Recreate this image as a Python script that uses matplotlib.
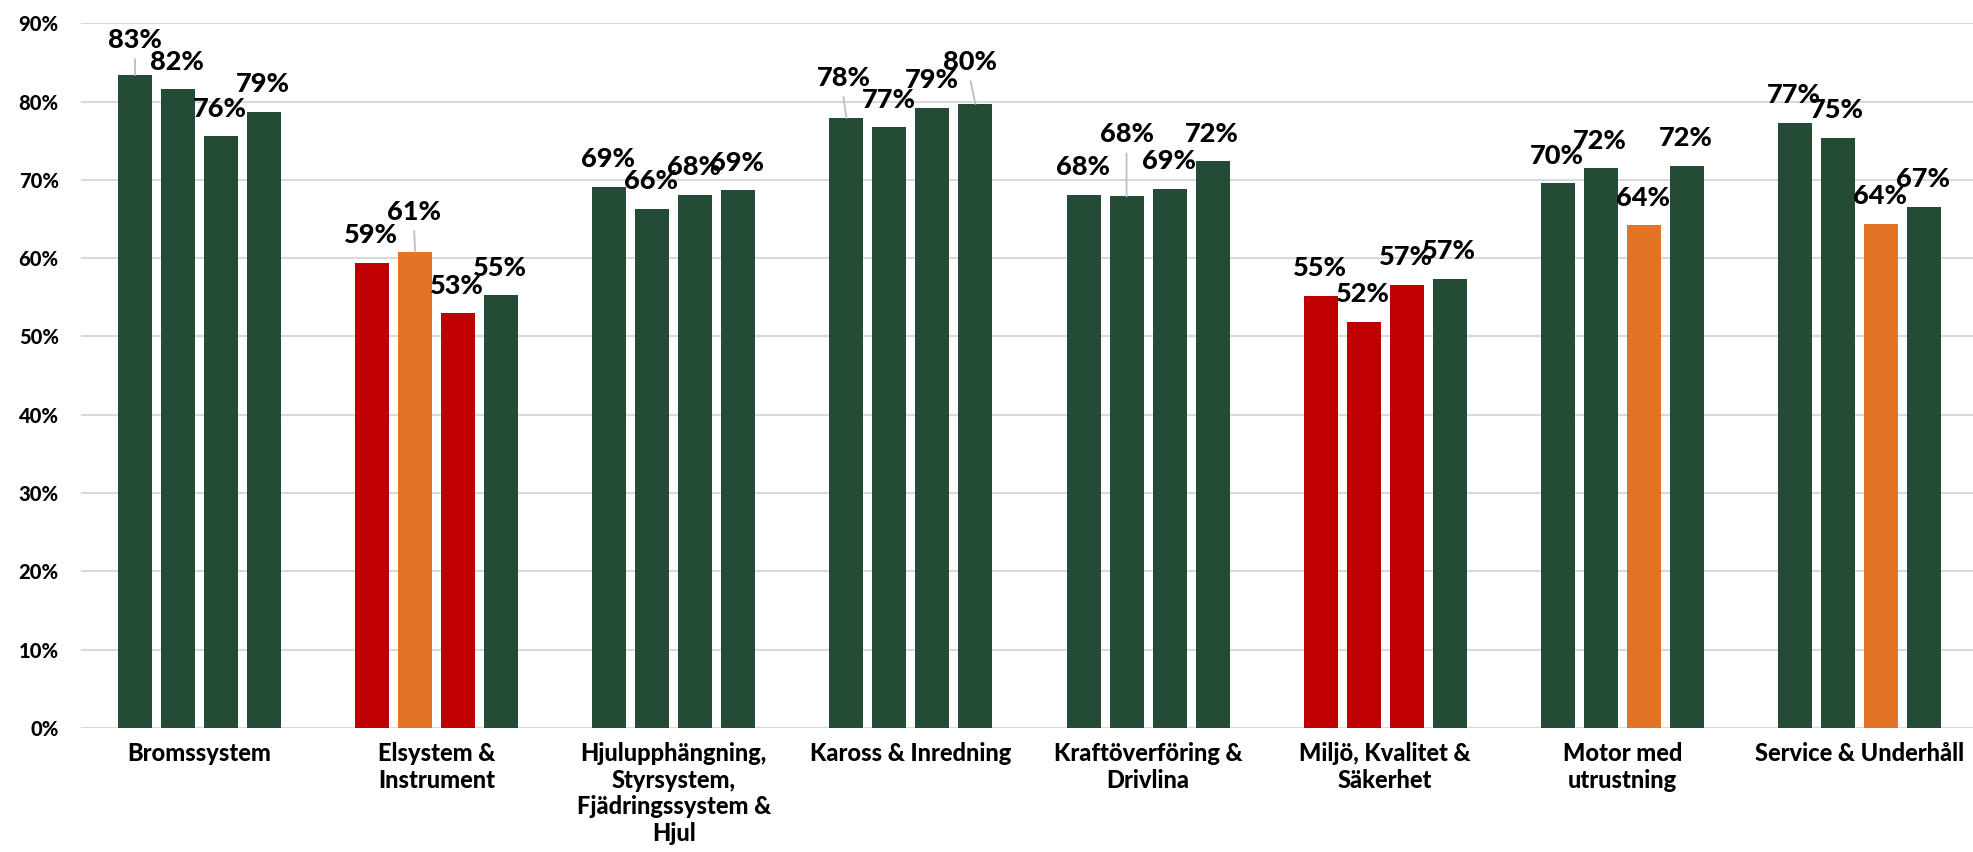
import matplotlib
matplotlib.use("Agg")
import matplotlib.pyplot as plt
import numpy as np
from matplotlib.ticker import FuncFormatter

plt.rcParams["font.family"] = ["Lato", "DejaVu Sans"]

categories = [
    "Bromssystem",
    "Elsystem &\nInstrument",
    "Hjulupphängning,\nStyrsystem,\nFjädringssystem &\nHjul",
    "Kaross & Inredning",
    "Kraftöverföring &\nDrivlina",
    "Miljö, Kvalitet &\nSäkerhet",
    "Motor med\nutrustning",
    "Service & Underhåll",
]

# four bars per category
values = [
    [0.834, 0.816, 0.756, 0.787],
    [0.594, 0.608, 0.530, 0.553],
    [0.691, 0.663, 0.681, 0.687],
    [0.779, 0.767, 0.792, 0.797],
    [0.681, 0.679, 0.689, 0.724],
    [0.552, 0.519, 0.566, 0.574],
    [0.696, 0.715, 0.642, 0.718],
    [0.773, 0.754, 0.644, 0.666],
]

# status of each bar: g = ok, o = warning, r = low
status = [
    ["g", "g", "g", "g"],
    ["r", "o", "r", "g"],
    ["g", "g", "g", "g"],
    ["g", "g", "g", "g"],
    ["g", "g", "g", "g"],
    ["r", "r", "r", "g"],
    ["g", "g", "o", "g"],
    ["g", "g", "o", "g"],
]

status_colors = {"g": "#234B35", "o": "#E37325", "r": "#C00000"}

# labels moved off the bar (Excel-style), (dx px, lift px) with leader line
moved_labels = {
    (0, 0): (0, 27),
    (1, 1): (-1, 32),
    (3, 0): (-3, 32),
    (3, 3): (-5, 34),
    (4, 1): (0, 54),
}

PX = 0.72  # points per pixel at dpi 100
LABEL_KW = dict(textcoords="offset points", ha="center", va="baseline",
                fontsize=19.5, fontweight=900, color="black", zorder=5)

fig = plt.figure(figsize=(19.74, 8.52), dpi=100)
ax = fig.add_axes([81 / 1974, 1 - 728 / 852, 1897 / 1974, (728 - 23.3) / 852])

n_series = 4
step = 43 / 237
width = 34 / 237
x = np.arange(len(categories))

for i, cat in enumerate(categories):
    for j in range(n_series):
        xpos = x[i] + (j - (n_series - 1) / 2) * step
        v = values[i][j]
        ax.bar(xpos, v, width=width, color=status_colors[status[i][j]],
               zorder=3, linewidth=0)
        label = f"{round(v * 100):.0f}%"
        if (i, j) in moved_labels:
            dx, lift = moved_labels[(i, j)]
            ax.annotate(label, xy=(xpos, v), xytext=(dx * PX, lift * PX), **LABEL_KW)
            ax.annotate("", xy=(xpos, v), xytext=(dx * PX, (lift - 11) * PX),
                        textcoords="offset points",
                        arrowprops=dict(arrowstyle="-", color="#BFBFBF", lw=1.3,
                                        shrinkA=0, shrinkB=0), zorder=4)
        else:
            ax.annotate(label, xy=(xpos, v), xytext=(-1 * PX, 19.5 * PX), **LABEL_KW)

ax.set_xlim(-0.5, len(categories) - 0.5)
ax.set_ylim(0, 0.9)
ax.set_yticks(np.arange(0, 0.91, 0.1))
ax.yaxis.set_major_formatter(FuncFormatter(lambda y, pos: f"{y * 100:.0f}%"))
ax.set_xticks(x)
ax.set_xticklabels(categories, fontsize=17, fontweight=900, linespacing=1.2)
ax.tick_params(axis="x", length=0, pad=10)
ax.tick_params(axis="y", length=0, pad=16, labelsize=14.5)
for lbl in ax.get_yticklabels():
    lbl.set_fontweight(900)

ax.grid(axis="y", color="#D9D9D9", linewidth=1.5, zorder=0)
ax.set_axisbelow(True)
for s in ax.spines.values():
    s.set_visible(False)

fig.savefig("out.png", dpi=100)
